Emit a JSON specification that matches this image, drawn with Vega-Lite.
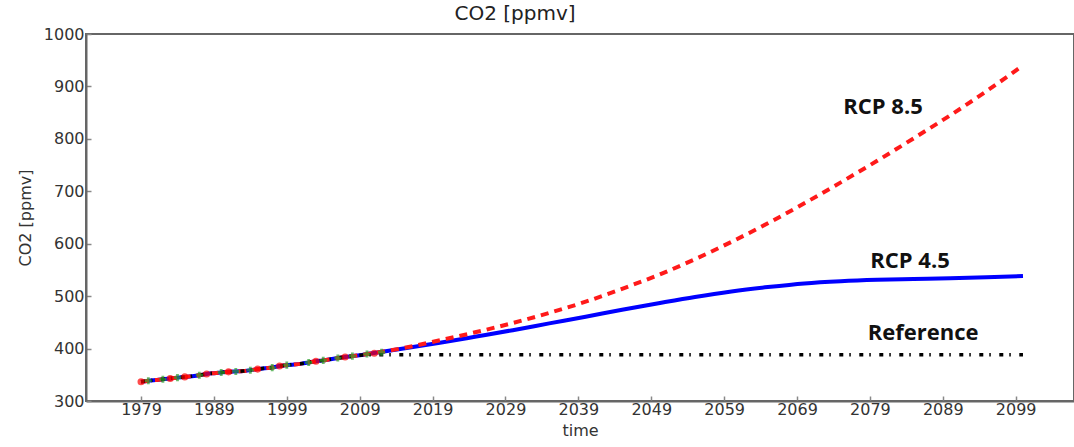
{
  "$schema": "https://vega.github.io/schema/vega-lite/v6.json",
  "width": 988,
  "height": 367,
  "autosize": {"type": "none"},
  "padding": {"left": 86, "top": 34, "right": 0, "bottom": 46},
  "background": "white",
  "title": {"text": "CO2 [ppmv]", "font": "DejaVu Sans", "fontSize": 20, "fontWeight": "normal", "color": "#222", "offset": 2, "dx": -65},
  "config": {
    "view": {"stroke": "#666", "strokeWidth": 2},
    "axis": {"labelFont": "DejaVu Sans", "labelFontSize": 16, "labelColor": "#333", "titleFont": "DejaVu Sans", "titleFontSize": 16, "titleFontWeight": "normal", "titleColor": "#333", "grid": false, "domainColor": "#666", "domainWidth": 2, "tickColor": "#888", "tickSize": -5, "tickWidth": 1.5}
  },
  "datasets": {
    "lines": [
      {"year": 1979, "co2": 336.8, "series": "RCP 4.5"}, {"year": 1980, "co2": 338.7, "series": "RCP 4.5"}, {"year": 1981, "co2": 340.1, "series": "RCP 4.5"}, {"year": 1982, "co2": 341.4, "series": "RCP 4.5"}, {"year": 1983, "co2": 343.0, "series": "RCP 4.5"}, {"year": 1984, "co2": 344.6, "series": "RCP 4.5"}, {"year": 1985, "co2": 346.0, "series": "RCP 4.5"}, {"year": 1986, "co2": 347.4, "series": "RCP 4.5"}, {"year": 1987, "co2": 349.2, "series": "RCP 4.5"}, {"year": 1988, "co2": 351.6, "series": "RCP 4.5"}, {"year": 1989, "co2": 353.1, "series": "RCP 4.5"}, {"year": 1990, "co2": 354.4, "series": "RCP 4.5"}, {"year": 1991, "co2": 355.6, "series": "RCP 4.5"}, {"year": 1992, "co2": 356.4, "series": "RCP 4.5"}, {"year": 1993, "co2": 357.1, "series": "RCP 4.5"}, {"year": 1994, "co2": 358.8, "series": "RCP 4.5"}, {"year": 1995, "co2": 360.8, "series": "RCP 4.5"}, {"year": 1996, "co2": 362.6, "series": "RCP 4.5"}, {"year": 1997, "co2": 363.7, "series": "RCP 4.5"}, {"year": 1998, "co2": 366.7, "series": "RCP 4.5"}, {"year": 1999, "co2": 368.4, "series": "RCP 4.5"}, {"year": 2000, "co2": 369.7, "series": "RCP 4.5"}, {"year": 2001, "co2": 371.3, "series": "RCP 4.5"}, {"year": 2002, "co2": 373.5, "series": "RCP 4.5"}, {"year": 2003, "co2": 375.8, "series": "RCP 4.5"}, {"year": 2004, "co2": 377.5, "series": "RCP 4.5"}, {"year": 2005, "co2": 379.8, "series": "RCP 4.5"}, {"year": 2006, "co2": 381.9, "series": "RCP 4.5"}, {"year": 2007, "co2": 383.8, "series": "RCP 4.5"}, {"year": 2008, "co2": 385.6, "series": "RCP 4.5"}, {"year": 2009, "co2": 387.4, "series": "RCP 4.5"}, {"year": 2010, "co2": 389.5, "series": "RCP 4.5"},
      {"year": 2015, "co2": 400.0, "series": "RCP 4.5"}, {"year": 2020, "co2": 411.1, "series": "RCP 4.5"}, {"year": 2025, "co2": 423.0, "series": "RCP 4.5"}, {"year": 2030, "co2": 435.1, "series": "RCP 4.5"}, {"year": 2035, "co2": 448.0, "series": "RCP 4.5"}, {"year": 2040, "co2": 460.8, "series": "RCP 4.5"}, {"year": 2045, "co2": 474.0, "series": "RCP 4.5"}, {"year": 2050, "co2": 486.5, "series": "RCP 4.5"}, {"year": 2055, "co2": 498.5, "series": "RCP 4.5"}, {"year": 2060, "co2": 508.9, "series": "RCP 4.5"}, {"year": 2065, "co2": 517.3, "series": "RCP 4.5"}, {"year": 2070, "co2": 524.3, "series": "RCP 4.5"}, {"year": 2075, "co2": 528.5, "series": "RCP 4.5"}, {"year": 2080, "co2": 531.1, "series": "RCP 4.5"}, {"year": 2085, "co2": 532.6, "series": "RCP 4.5"}, {"year": 2090, "co2": 534.0, "series": "RCP 4.5"}, {"year": 2095, "co2": 536.0, "series": "RCP 4.5"}, {"year": 2100, "co2": 538.4, "series": "RCP 4.5"},
      {"year": 1979, "co2": 336.8, "series": "RCP 8.5"}, {"year": 1980, "co2": 338.7, "series": "RCP 8.5"}, {"year": 1981, "co2": 340.1, "series": "RCP 8.5"}, {"year": 1982, "co2": 341.4, "series": "RCP 8.5"}, {"year": 1983, "co2": 343.0, "series": "RCP 8.5"}, {"year": 1984, "co2": 344.6, "series": "RCP 8.5"}, {"year": 1985, "co2": 346.0, "series": "RCP 8.5"}, {"year": 1986, "co2": 347.4, "series": "RCP 8.5"}, {"year": 1987, "co2": 349.2, "series": "RCP 8.5"}, {"year": 1988, "co2": 351.6, "series": "RCP 8.5"}, {"year": 1989, "co2": 353.1, "series": "RCP 8.5"}, {"year": 1990, "co2": 354.4, "series": "RCP 8.5"}, {"year": 1991, "co2": 355.6, "series": "RCP 8.5"}, {"year": 1992, "co2": 356.4, "series": "RCP 8.5"}, {"year": 1993, "co2": 357.1, "series": "RCP 8.5"}, {"year": 1994, "co2": 358.8, "series": "RCP 8.5"}, {"year": 1995, "co2": 360.8, "series": "RCP 8.5"}, {"year": 1996, "co2": 362.6, "series": "RCP 8.5"}, {"year": 1997, "co2": 363.7, "series": "RCP 8.5"}, {"year": 1998, "co2": 366.7, "series": "RCP 8.5"}, {"year": 1999, "co2": 368.4, "series": "RCP 8.5"}, {"year": 2000, "co2": 369.7, "series": "RCP 8.5"}, {"year": 2001, "co2": 371.3, "series": "RCP 8.5"}, {"year": 2002, "co2": 373.5, "series": "RCP 8.5"}, {"year": 2003, "co2": 375.8, "series": "RCP 8.5"}, {"year": 2004, "co2": 377.5, "series": "RCP 8.5"}, {"year": 2005, "co2": 379.8, "series": "RCP 8.5"}, {"year": 2006, "co2": 381.9, "series": "RCP 8.5"}, {"year": 2007, "co2": 383.8, "series": "RCP 8.5"}, {"year": 2008, "co2": 385.6, "series": "RCP 8.5"}, {"year": 2009, "co2": 387.4, "series": "RCP 8.5"}, {"year": 2010, "co2": 389.5, "series": "RCP 8.5"},
      {"year": 2015, "co2": 401.0, "series": "RCP 8.5"}, {"year": 2020, "co2": 415.8, "series": "RCP 8.5"}, {"year": 2025, "co2": 431.5, "series": "RCP 8.5"}, {"year": 2030, "co2": 448.8, "series": "RCP 8.5"}, {"year": 2035, "co2": 468.0, "series": "RCP 8.5"}, {"year": 2040, "co2": 489.4, "series": "RCP 8.5"}, {"year": 2045, "co2": 514.0, "series": "RCP 8.5"}, {"year": 2050, "co2": 540.5, "series": "RCP 8.5"}, {"year": 2055, "co2": 570.5, "series": "RCP 8.5"}, {"year": 2060, "co2": 603.5, "series": "RCP 8.5"}, {"year": 2065, "co2": 639.0, "series": "RCP 8.5"}, {"year": 2070, "co2": 677.1, "series": "RCP 8.5"}, {"year": 2075, "co2": 717.0, "series": "RCP 8.5"}, {"year": 2080, "co2": 758.2, "series": "RCP 8.5"}, {"year": 2085, "co2": 801.0, "series": "RCP 8.5"}, {"year": 2090, "co2": 844.8, "series": "RCP 8.5"}, {"year": 2095, "co2": 891.0, "series": "RCP 8.5"}, {"year": 2100, "co2": 940.0, "series": "RCP 8.5"},
      {"year": 1979, "co2": 336.8, "series": "Reference"}, {"year": 1980, "co2": 338.7, "series": "Reference"}, {"year": 1981, "co2": 340.1, "series": "Reference"}, {"year": 1982, "co2": 341.4, "series": "Reference"}, {"year": 1983, "co2": 343.0, "series": "Reference"}, {"year": 1984, "co2": 344.6, "series": "Reference"}, {"year": 1985, "co2": 346.0, "series": "Reference"}, {"year": 1986, "co2": 347.4, "series": "Reference"}, {"year": 1987, "co2": 349.2, "series": "Reference"}, {"year": 1988, "co2": 351.6, "series": "Reference"}, {"year": 1989, "co2": 353.1, "series": "Reference"}, {"year": 1990, "co2": 354.4, "series": "Reference"}, {"year": 1991, "co2": 355.6, "series": "Reference"}, {"year": 1992, "co2": 356.4, "series": "Reference"}, {"year": 1993, "co2": 357.1, "series": "Reference"}, {"year": 1994, "co2": 358.8, "series": "Reference"}, {"year": 1995, "co2": 360.8, "series": "Reference"}, {"year": 1996, "co2": 362.6, "series": "Reference"}, {"year": 1997, "co2": 363.7, "series": "Reference"}, {"year": 1998, "co2": 366.7, "series": "Reference"}, {"year": 1999, "co2": 368.4, "series": "Reference"}, {"year": 2000, "co2": 369.7, "series": "Reference"}, {"year": 2001, "co2": 371.3, "series": "Reference"}, {"year": 2002, "co2": 373.5, "series": "Reference"}, {"year": 2003, "co2": 375.8, "series": "Reference"}, {"year": 2004, "co2": 377.5, "series": "Reference"}, {"year": 2005, "co2": 379.8, "series": "Reference"}, {"year": 2006, "co2": 381.9, "series": "Reference"}, {"year": 2007, "co2": 383.8, "series": "Reference"}, {"year": 2008, "co2": 385.6, "series": "Reference"}, {"year": 2009, "co2": 387.4, "series": "Reference"}, {"year": 2010, "co2": 388.0, "series": "Reference"}, {"year": 2100, "co2": 388.0, "series": "Reference"}
    ],
    "obs": [
      {"year": 1980, "co2": 338.7, "kind": "green"}, {"year": 1982, "co2": 341.4, "kind": "green"}, {"year": 1984, "co2": 344.6, "kind": "green"}, {"year": 1987, "co2": 349.2, "kind": "green"}, {"year": 1990, "co2": 354.4, "kind": "green"}, {"year": 1992, "co2": 356.4, "kind": "green"}, {"year": 1994, "co2": 358.8, "kind": "green"}, {"year": 1997, "co2": 363.7, "kind": "green"}, {"year": 1999, "co2": 368.4, "kind": "green"}, {"year": 2002, "co2": 373.5, "kind": "green"}, {"year": 2004, "co2": 377.5, "kind": "green"}, {"year": 2006, "co2": 381.9, "kind": "green"}, {"year": 2008, "co2": 385.6, "kind": "green"}, {"year": 2010, "co2": 389.5, "kind": "green"}, {"year": 2012, "co2": 393.0, "kind": "green"},
      {"year": 1979, "co2": 336.8, "kind": "red"}, {"year": 1983, "co2": 343.0, "kind": "red"}, {"year": 1985, "co2": 346.0, "kind": "red"}, {"year": 1988, "co2": 351.6, "kind": "red"}, {"year": 1991, "co2": 355.6, "kind": "red"}, {"year": 1995, "co2": 360.8, "kind": "red"}, {"year": 1998, "co2": 366.7, "kind": "red"}, {"year": 2003, "co2": 375.8, "kind": "red"}, {"year": 2007, "co2": 383.8, "kind": "red"}, {"year": 2011, "co2": 391.0, "kind": "red"}
    ],
    "labels": [
      {"year": 2080.8, "co2": 861, "label": "RCP 8.5"},
      {"year": 2084.5, "co2": 567, "label": "RCP 4.5"},
      {"year": 2086.3, "co2": 430, "label": "Reference"}
    ]
  },
  "layer": [
    {
      "data": {"name": "lines"},
      "transform": [{"filter": "datum.series == 'RCP 4.5'"}],
      "mark": {"type": "line", "color": "#0000ff", "strokeWidth": 4, "interpolate": "monotone", "clip": true},
      "encoding": {
        "x": {"field": "year", "type": "quantitative", "scale": {"domain": [1971.45, 2107], "nice": false, "zero": false},
          "axis": {"title": "time", "values": [1979, 1989, 1999, 2009, 2019, 2029, 2039, 2049, 2059, 2069, 2079, 2089, 2099], "format": "d", "labelPadding": 5, "titlePadding": 5}},
        "y": {"field": "co2", "type": "quantitative", "scale": {"domain": [300, 1000], "nice": false, "zero": false},
          "axis": {"title": "CO2 [ppmv]", "values": [300, 400, 500, 600, 700, 800, 900, 1000], "format": "d", "labelPadding": 7, "titlePadding": 10}}
      }
    },
    {
      "data": {"name": "lines"},
      "transform": [{"filter": "datum.series == 'RCP 8.5'"}],
      "mark": {"type": "line", "color": "#ff1a1a", "strokeWidth": 4, "strokeDash": [8, 6], "interpolate": "monotone", "clip": true},
      "encoding": {
        "x": {"field": "year", "type": "quantitative"},
        "y": {"field": "co2", "type": "quantitative"}
      }
    },
    {
      "data": {"name": "lines"},
      "transform": [{"filter": "datum.series == 'Reference'"}],
      "mark": {"type": "line", "color": "#000000", "strokeWidth": 3.5, "strokeDash": [4, 6, 1.5, 8.5], "interpolate": "monotone", "clip": true},
      "encoding": {
        "x": {"field": "year", "type": "quantitative"},
        "y": {"field": "co2", "type": "quantitative"}
      }
    },
    {
      "data": {"name": "obs"},
      "mark": {"type": "point", "filled": true, "size": 50},
      "encoding": {
        "x": {"field": "year", "type": "quantitative"},
        "y": {"field": "co2", "type": "quantitative"},
        "shape": {"field": "kind", "type": "nominal", "scale": {"domain": ["green", "red"], "range": ["cross", "circle"]}, "legend": null},
        "color": {"field": "kind", "type": "nominal", "scale": {"domain": ["green", "red"], "range": ["#2ca02c", "#ff0000"]}, "legend": null}
      }
    },
    {
      "data": {"name": "labels"},
      "mark": {"type": "text", "font": "Open Sans", "fontSize": 22, "fontWeight": "bold", "color": "#111", "align": "center", "baseline": "middle"},
      "encoding": {
        "x": {"field": "year", "type": "quantitative"},
        "y": {"field": "co2", "type": "quantitative"},
        "text": {"field": "label", "type": "nominal"}
      }
    }
  ]
}
